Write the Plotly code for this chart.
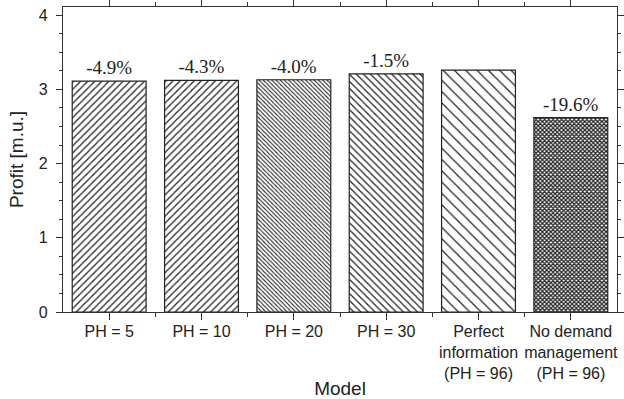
import plotly.graph_objects as go

categories = ["PH = 5", "PH = 10", "PH = 20", "PH = 30",
              "Perfect<br>information<br>(PH = 96)",
              "No demand<br>management<br>(PH = 96)"]
profit = [3.11, 3.12, 3.13, 3.21, 3.26, 2.62]
labels = ["-4.9%", "-4.3%", "-4.0%", "-1.5%", "", "-19.6%"]

shapes = ["/", "/", "\\", "\\", "\\", "x"]
sizes = [5, 5, 3, 5, 8, 3]
solid = [0.25, 0.25, 0.35, 0.25, 0.15, 0.65]

xs = list(range(len(categories)))

fig = go.Figure()
fig.add_trace(go.Bar(
    x=xs, y=profit, text=labels, textposition="outside",
    textfont=dict(family="Liberation Serif", size=19, color="#222"),
    cliponaxis=False,
    marker=dict(color="white",
                line=dict(color="#222", width=1.2),
                pattern=dict(shape=shapes, size=sizes, solidity=solid,
                             fgcolor="#222", bgcolor="white", fillmode="replace")),
    width=0.8,
))

fig.update_layout(
    width=624, height=399,
    margin=dict(l=63, r=7, t=7, b=87),
    plot_bgcolor="white", paper_bgcolor="white",
    font=dict(family="Liberation Sans", size=16, color="#222"),
    showlegend=False,
)
fig.update_xaxes(
    range=[-0.5, 5.5], tickvals=xs, ticktext=categories,
    automargin=False,
    showgrid=False, zeroline=False,
    showline=True, linecolor="#333", linewidth=1.2, mirror="ticks",
    ticks="outside", ticklen=7, tickcolor="#333",
    minor=dict(tickvals=[i + 0.5 for i in xs[:-1]], ticks="outside", ticklen=4, tickcolor="#333"),
    ticklabelstandoff=-2,
    title=dict(text="Model", standoff=6),
    tickfont=dict(size=16),
)
fig.update_yaxes(
    range=[0, 4.11], tickvals=[0, 1, 2, 3, 4],
    automargin=False,
    showgrid=False, zeroline=False,
    showline=True, linecolor="#333", linewidth=1.2, mirror="ticks",
    ticks="outside", ticklen=6, tickcolor="#333",
    minor=dict(dtick=0.25, ticks="outside", ticklen=3, tickcolor="#333"),
    ticklabelstandoff=5,
    title=dict(text="Profit [m.u.]", standoff=10),
    tickfont=dict(size=16),
)

fig.write_html("out.html")
